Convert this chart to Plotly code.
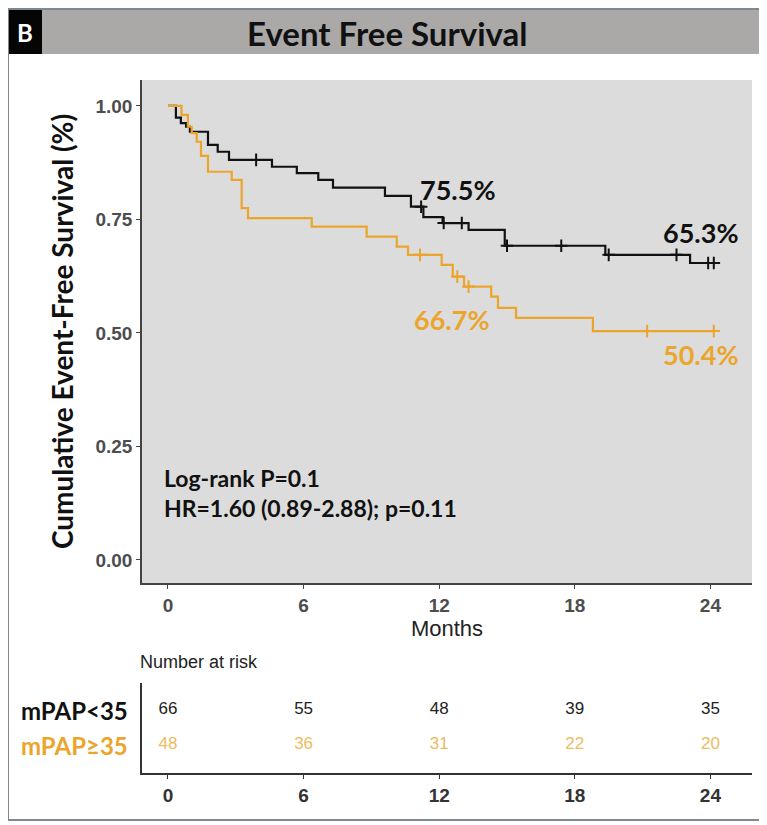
import numpy as np
import plotly.graph_objects as go

# page body has an 8px default margin, so the figure is drawn 8px smaller and shifted
OFF = 8
W, H = 767 - OFF, 825 - OFF

# ---- data ----
low_label = "mPAP<35"
high_label = "mPAP≥35"

low_time = [0, 0.35, 0.57, 0.8, 0.97, 1.77, 2.2, 2.7, 4.6, 5.7, 6.65, 7.3, 9.6, 10.75, 11.3, 12.15, 13.3, 14.9, 19.35, 23.1, 24.2]
low_surv = [1.0, 0.974, 0.962, 0.954, 0.943, 0.914, 0.899, 0.881, 0.866, 0.852, 0.837, 0.82, 0.802, 0.778, 0.755, 0.742, 0.727, 0.692, 0.672, 0.654, 0.654]
low_censor = [3.9, 11.2, 12.2, 13.0, 15.0, 17.4, 19.5, 22.5, 23.9, 24.15]

high_time = [0, 0.6, 0.88, 1.05, 1.27, 1.46, 1.77, 2.82, 3.26, 3.54, 6.36, 8.79, 10.12, 10.62, 12.11, 12.6, 13.1, 14.3, 14.6, 15.4, 18.8, 24.15]
high_surv = [1.0, 0.98, 0.954, 0.94, 0.921, 0.89, 0.855, 0.837, 0.775, 0.753, 0.734, 0.712, 0.69, 0.672, 0.65, 0.624, 0.602, 0.58, 0.555, 0.533, 0.504, 0.504]
high_censor = [11.15, 12.8, 13.3, 21.2, 24.15]

x_ticks = [0, 6, 12, 18, 24]
y_ticks = [0, 0.25, 0.5, 0.75, 1.0]
y_tick_labels = ["0.00", "0.25", "0.50", "0.75", "1.00"]

risk_times = [0, 6, 12, 18, 24]
risk_low = [66, 55, 48, 39, 35]
risk_high = [48, 36, 31, 22, 20]

pct_labels = ["75.5%", "65.3%", "66.7%", "50.4%"]
pct_x = [12.83, 23.6, 12.57, 23.6]
pct_y = [0.815, 0.722, 0.529, 0.452]

stats_lines = ["Log-rank P=0.1", "HR=1.60 (0.89-2.88); p=0.11"]

# ---- styles ----
BLACK = "#111111"
ORANGE = "#EBA52C"
ORANGE_LIGHT = "#EDBB5E"
PANEL = "#DCDCDC"
AX = "#444444"
NARROW = "Liberation Sans Narrow, Arial Narrow, Liberation Sans, Arial"


def step_at(times, surv, t):
    idx = np.searchsorted(np.array(times), t, side="right") - 1
    return [surv[i] for i in idx]


def px(x):
    return (x - OFF) / W


def py(y):
    return 1 - (y - OFF) / H


fig = go.Figure()

fig.add_trace(go.Scatter(x=low_time, y=low_surv, mode="lines", line=dict(color=BLACK, width=2.2, shape="hv"),
                         showlegend=False, xaxis="x", yaxis="y"))
fig.add_trace(go.Scatter(x=high_time, y=high_surv, mode="lines", line=dict(color=ORANGE, width=2.2, shape="hv"),
                         showlegend=False, xaxis="x", yaxis="y"))
fig.add_trace(go.Scatter(x=low_censor, y=step_at(low_time, low_surv, low_censor), mode="markers",
                         marker=dict(symbol="cross-thin", size=9, line=dict(color=BLACK, width=2)),
                         showlegend=False, xaxis="x", yaxis="y"))
fig.add_trace(go.Scatter(x=high_censor, y=step_at(high_time, high_surv, high_censor), mode="markers",
                         marker=dict(symbol="cross-thin", size=9, line=dict(color=ORANGE, width=2)),
                         showlegend=False, xaxis="x", yaxis="y"))

fig.add_trace(go.Scatter(x=risk_times, y=[2] * len(risk_times), mode="text", text=[str(v) for v in risk_low],
                         textfont=dict(family=NARROW, size=17, color="#222222"),
                         showlegend=False, xaxis="x2", yaxis="y2"))
fig.add_trace(go.Scatter(x=risk_times, y=[1] * len(risk_times), mode="text", text=[str(v) for v in risk_high],
                         textfont=dict(family=NARROW, size=17, color=ORANGE_LIGHT),
                         showlegend=False, xaxis="x2", yaxis="y2"))

xr = [-1.15, 25.84]
fig.update_layout(
    width=W, height=H,
    margin=dict(l=0, r=0, t=0, b=0),
    paper_bgcolor="white",
    plot_bgcolor="rgba(0,0,0,0)",
    xaxis=dict(domain=[px(142), px(752)], range=xr, tickvals=x_ticks, ticktext=[str(v) for v in x_ticks],
               showgrid=False, zeroline=False, showline=True, linecolor=AX, linewidth=1.5,
               ticks="outside", ticklen=4, tickcolor=AX,
               tickfont=dict(family="Liberation Sans, Arial", size=19, color="#4D4D4D", weight="bold"),
               title=dict(text="Months", font=dict(family="Liberation Sans, Arial", size=22, color="#222222"), standoff=2),
               anchor="y"),
    yaxis=dict(domain=[py(583), py(80)], range=[-0.0507, 1.057], tickvals=y_ticks, ticktext=y_tick_labels,
               showgrid=False, zeroline=False, showline=True, linecolor=AX, linewidth=1.5,
               ticks="outside", ticklen=4, tickcolor=AX,
               tickfont=dict(family="Liberation Sans, Arial", size=19, color="#4D4D4D", weight="bold"),
               anchor="x"),
    xaxis2=dict(domain=[px(142), px(752)], range=xr, tickvals=x_ticks, ticktext=[str(v) for v in x_ticks],
                showgrid=False, zeroline=False, showline=True, linecolor="#333333", linewidth=1.5,
                ticks="outside", ticklen=4, tickcolor="#333333",
                tickfont=dict(family=NARROW, size=19, color="#333333", weight="bold"),
                anchor="y2"),
    yaxis2=dict(domain=[py(773), py(683)], range=[0.2, 0.2 + 90 / 35], showgrid=False, zeroline=False,
                showline=True, linecolor="#333333", linewidth=1.5, showticklabels=False, ticks="",
                anchor="x2"),
)

shapes = []
shapes.append(dict(type="rect", xref="paper", yref="paper", x0=px(142), x1=px(752), y0=py(583), y1=py(80),
                   line=dict(width=0), fillcolor=PANEL, layer="below"))
shapes.append(dict(type="rect", xref="paper", yref="paper", x0=px(42), x1=px(760), y0=py(54), y1=py(9),
                   line=dict(width=0), fillcolor="#ABA8A8", layer="below"))
shapes.append(dict(type="rect", xref="paper", yref="paper", x0=px(7), x1=px(42), y0=py(54), y1=py(9),
                   line=dict(width=0), fillcolor="#050505", layer="below"))
shapes.append(dict(type="rect", xref="paper", yref="paper", x0=px(8), x1=px(760), y0=py(820), y1=py(9),
                   line=dict(color="#7D8893", width=2), fillcolor="rgba(0,0,0,0)", layer="above"))
fig.update_layout(shapes=shapes)

ann = []
ann.append(dict(text="<b>B</b>", x=px(25), y=py(32), xref="paper", yref="paper", showarrow=False,
                font=dict(family="Lato, Liberation Sans", size=24, color="white"), xanchor="center", yanchor="middle"))
ann.append(dict(text="<b>Event Free Survival</b>", x=px(387), y=py(33), xref="paper", yref="paper", showarrow=False,
                font=dict(family="Lato, Liberation Sans", size=33, color="#111111"), xanchor="center", yanchor="middle"))
ann.append(dict(text="<b>Cumulative Event-Free Survival (%)</b>", x=px(62), y=py(332), xref="paper", yref="paper",
                showarrow=False, textangle=-90,
                font=dict(family="Lato, Liberation Sans", size=28, color="#111111"), xanchor="center", yanchor="middle"))
for i, (t, xx, yy) in enumerate(zip(pct_labels, pct_x, pct_y)):
    c = BLACK if i in (0, 1) else ORANGE
    ann.append(dict(text="<b>" + t + "</b>", x=xx, y=yy, xref="x", yref="y", showarrow=False,
                    font=dict(family="Lato, Liberation Sans", size=27, color=c), xanchor="center", yanchor="middle"))
for i, s in enumerate(stats_lines):
    ann.append(dict(text="<b>" + s + "</b>", x=px(162), y=py(478 + 30 * i), xref="paper", yref="paper", showarrow=False,
                    font=dict(family="Lato, Liberation Sans", size=23, color="#111111"), xanchor="left", yanchor="middle"))
ann.append(dict(text="Number at risk", x=px(138), y=py(662), xref="paper", yref="paper", showarrow=False,
                font=dict(family=NARROW, size=18, color="#222222"),
                xanchor="left", yanchor="middle"))
ann.append(dict(text="<b>" + low_label + "</b>", x=px(130), y=2, xref="paper", yref="y2", showarrow=False,
                font=dict(family="Lato, Liberation Sans", size=24, color=BLACK), xanchor="right", yanchor="middle"))
ann.append(dict(text="<b>" + high_label + "</b>", x=px(130), y=1, xref="paper", yref="y2", showarrow=False,
                font=dict(family="Lato, Liberation Sans", size=24, color=ORANGE), xanchor="right", yanchor="middle"))
fig.update_layout(annotations=ann)

fig.write_html("out.html")
